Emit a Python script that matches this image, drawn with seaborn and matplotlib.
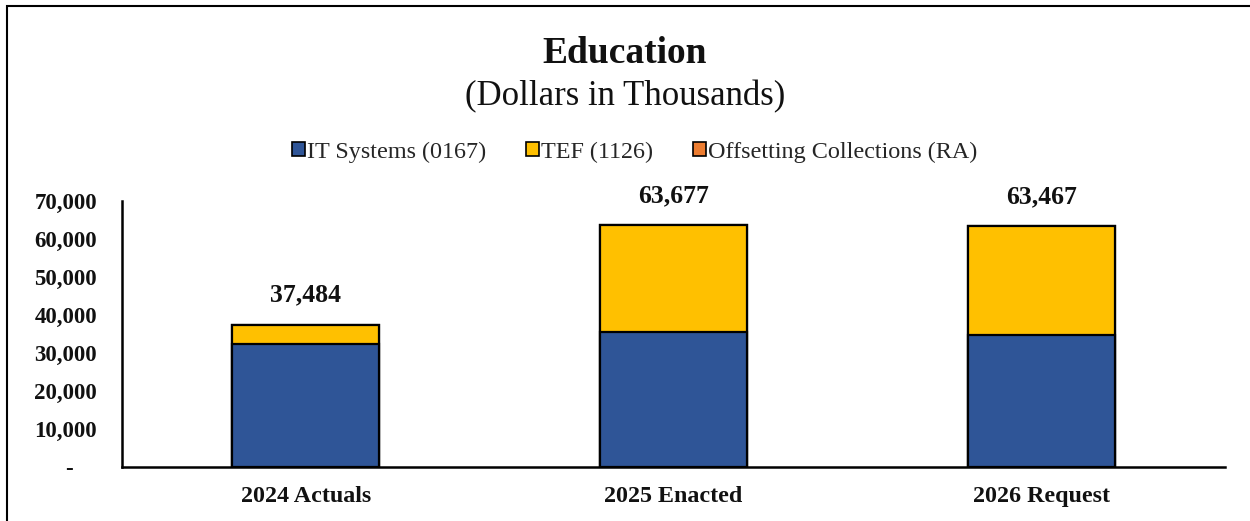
import matplotlib
matplotlib.use("Agg")
import matplotlib.pyplot as plt
from matplotlib.patches import Rectangle
from matplotlib.ticker import FuncFormatter
import seaborn as sns
import pandas as pd

# Funding by year and account (dollars in thousands)
years = ["2024 Actuals", "2025 Enacted", "2026 Request"]
it_systems = [32400, 35450, 34650]
tef = [5084, 28227, 28817]
offsetting = [0, 0, 0]
series_names = ["IT Systems (0167)", "TEF (1126)", "Offsetting Collections (RA)"]
series_colors = ["#2F5597", "#FFC000", "#ED7D31"]
y_ticks = [0, 10000, 20000, 30000, 40000, 50000, 60000, 70000]

sns.set_theme(style="white")
plt.rcParams["font.family"] = ["Liberation Serif", "DejaVu Serif"]

df = pd.DataFrame({"year": years, "it": it_systems, "tef": tef, "off": offsetting})
df["lvl_it"] = df["it"]
df["lvl_tef"] = df["it"] + df["tef"]
df["lvl_off"] = df["lvl_tef"] + df["off"]
totals = df["lvl_off"].tolist()

fig = plt.figure(figsize=(12.5, 5.21), dpi=100)
ax = fig.add_axes([0.0976, 0.1036, 0.8824, 0.5104])

# Stacked bars drawn as cumulative layers, tallest first
for col, color in zip(["lvl_off", "lvl_tef", "lvl_it"], series_colors[::-1]):
    sns.barplot(data=df, x="year", y=col, color=color, width=0.4,
                edgecolor="black", linewidth=1.6, saturation=1, ax=ax)

for i, tot in enumerate(totals):
    ax.annotate(f"{tot:,}", (i, tot), xytext=(0, 13), textcoords="offset points",
                ha="center", va="bottom", fontsize=18.5, fontweight="bold",
                color="#111111")

ax.set_xlim(-0.5, 2.5)
ax.set_ylim(0, 70000)
ax.set_yticks(y_ticks)
ax.yaxis.set_major_formatter(FuncFormatter(lambda v, p: "-    " if v == 0 else f"{int(v):,}"))
ax.set_xlabel("")
ax.set_ylabel("")
for s in ["top", "right"]:
    ax.spines[s].set_visible(False)
for s in ["left", "bottom"]:
    ax.spines[s].set_color("black")
    ax.spines[s].set_linewidth(1.8)
ax.tick_params(axis="y", length=0, pad=18, labelsize=16.5)
ax.tick_params(axis="x", length=0, pad=14, labelsize=17.3)
for lab in ax.get_xticklabels() + ax.get_yticklabels():
    lab.set_fontweight("bold")
    lab.set_color("#111111")

fig.text(0.5, 0.898, "Education", ha="center", va="center", fontsize=27,
         fontweight="bold", color="#111111")
fig.text(0.5, 0.815, "(Dollars in Thousands)", ha="center", va="center",
         fontsize=25, color="#111111")

handles = [Rectangle((0, 0), 1, 1, facecolor=c, edgecolor="black", linewidth=1.2)
           for c in series_colors]
fig.legend(handles, series_names, loc="center", bbox_to_anchor=(0.508, 0.708),
           ncol=3, frameon=False, fontsize=17.4, handlelength=0.52, handleheight=0.52,
           handletextpad=0.1, columnspacing=1.65)

# Chart-area border
fig.add_artist(Rectangle((7 / 1250, -0.1), 1.2, 1 - 6 / 521 + 0.1,
                         transform=fig.transFigure, fill=False,
                         edgecolor="black", linewidth=1.5, clip_on=False))

fig.savefig("out.png", dpi=100)
